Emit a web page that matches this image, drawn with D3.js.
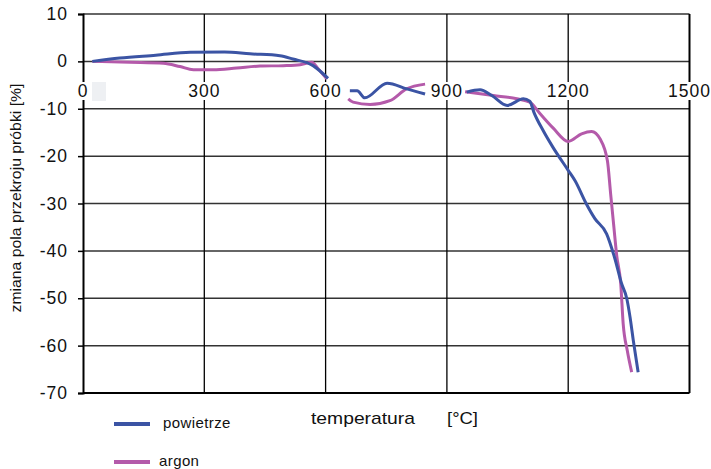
<!DOCTYPE html>
<html>
<head>
<meta charset="utf-8">
<script src="https://cdn.jsdelivr.net/npm/d3@7"></script>
<style>
	body { margin: 0; background: #fff; }
	text { font-family: "Liberation Sans", Arial, sans-serif; fill: #111; }
</style>
</head>
<body>
<div id="container"></div>
<script>
//Tick values
var xTicks = [0, 300, 600, 900, 1200, 1500];
var yTicks = [10, 0, -10, -20, -30, -40, -50, -60, -70];

//Series: temperature and change (null = hidden behind a tick label)
var powietrzeT = [23, 91, 180, 265, 350, 413, 487, 519, 569, 606, null, 660, 678, 697, 752, 801, 846, null,
	949, 982, 1011, 1049, 1089, 1105, 1115, 1138, 1162, 1200, 1217, 1245, 1266, 1295, 1315, 1332, 1345, 1353, 1361, 1373];
var powietrzeV = [0, 0.7, 1.3, 1.9, 2.0, 1.6, 1.2, 0.5, -0.9, -3.6, null, -6.2, -6.2, -7.7, -4.6, -5.8, -6.9, null,
	-6.5, -6.0, -7.2, -9.3, -7.9, -8.4, -10.7, -14.6, -18.1, -23.0, -25.2, -30.1, -33.2, -36.4, -41.5, -46.9, -50.1, -54.0, -58.9, -65.6];

var argonT = [23, 116, 199, 240, 273, 322, 380, 438, 495, 537, 566, 582, 603, null, 656, 668, 710, 759, 800, 846, null,
	945, 1015, 1073, 1105, 1130, 1163, 1200, 1233, 1258, 1279, 1297, 1305, 1313, 1320, 1330, 1336, 1346, 1357];
var argonV = [0, -0.2, -0.4, -1.1, -1.75, -1.75, -1.4, -1.0, -0.9, -0.7, -0.2, -1.6, -3.7, null, -7.9, -8.6, -9.1, -8.3, -5.8, -4.8, null,
	-6.4, -7.2, -7.9, -8.6, -11.0, -14.1, -16.9, -15.3, -14.8, -16.4, -21, -28, -35, -41, -47, -55.4, -61, -65.6];

var w = 711, h = 469;
var plotL = 83, plotR = 689.5, plotT = 14, plotB = 393;

var svg = d3.select('#container')
	.append("svg")
	.attr("width", w)
	.attr("height", h);

var x = d3.scaleLinear().domain([0, 1500]).range([plotL, plotR]);
var y = d3.scaleLinear().domain([-70, 10]).range([plotB, plotT]);

//Horizontal grid
svg.selectAll("line.hgrid")
	.data(yTicks)
	.enter()
	.append("line")
	.attr("class", "hgrid")
	.attr("x1", plotL).attr("x2", plotR)
	.attr("y1", function(d) { return y(d); })
	.attr("y2", function(d) { return y(d); })
	.attr("stroke", function(d) { return d == -70 ? "#000" : "#333"; })
	.attr("stroke-width", function(d) { return d == -70 ? 2 : 1.5; });

//Vertical grid
svg.selectAll("line.vgrid")
	.data(xTicks.slice(1))
	.enter()
	.append("line")
	.attr("class", "vgrid")
	.attr("x1", function(d) { return x(d); })
	.attr("x2", function(d) { return x(d); })
	.attr("y1", plotT).attr("y2", plotB)
	.attr("stroke", "#000")
	.attr("stroke-width", function(d) { return d == 1500 ? 2 : 1.3; });

//Y axis (plain hyphen minus like the original)
var yAxis = svg.append("g")
	.attr("transform", "translate(" + plotL + ",0)")
	.call(d3.axisLeft(y).tickValues(yTicks).tickFormat(String).tickSize(5).tickPadding(10));
yAxis.select(".domain").attr("stroke", "#000").attr("stroke-width", 2);
yAxis.selectAll(".tick line").attr("stroke", "#000").attr("stroke-width", 1.5);
yAxis.selectAll(".tick text")
	.attr("font-size", "17.5px")
	.attr("letter-spacing", "1px")
	.attr("font-family", "Liberation Sans, Arial, sans-serif")
	.attr("fill", "#111");

//Lines
function makeLine(ts, vs, color) {
	var pts = ts.map(function(t, i) { return [t, vs[i]]; });
	var line = d3.line()
		.defined(function(d) { return d[0] != null && d[1] != null; })
		.x(function(d) { return x(d[0]); })
		.y(function(d) { return y(d[1]); })
		.curve(d3.curveMonotoneX);
	svg.append("path")
		.datum(pts)
		.attr("d", line)
		.attr("fill", "none")
		.attr("stroke", color)
		.attr("stroke-width", 3)
		.attr("stroke-linejoin", "round");
}
makeLine(argonT, argonV, "#b45aaa");
makeLine(powietrzeT, powietrzeV, "#3b54a4");

//X tick labels with white boxes inside the plot
svg.append("rect")
	.attr("x", x(0) + 9).attr("y", 82)
	.attr("width", 14).attr("height", 19)
	.attr("fill", "#eef0f3");

var xl = svg.selectAll("g.xlab")
	.data(xTicks)
	.enter()
	.append("g")
	.attr("class", "xlab")
	.attr("transform", function(d) { return "translate(" + x(d) + ",91)"; });
xl.append("rect")
	.attr("x", function(d) { var bw = d == 0 ? 12 : String(d).length * 10.5 + 2; return -bw / 2; })
	.attr("y", -9)
	.attr("width", function(d) { return d == 0 ? 12 : String(d).length * 10.5 + 2; })
	.attr("height", 18)
	.attr("fill", "#fff");
xl.append("text")
	.text(function(d) { return d; })
	.attr("text-anchor", "middle")
	.attr("y", 6)
	.attr("font-size", "17.5px")
	.attr("letter-spacing", "1px");

//Axis titles
svg.append("text")
	.text("zmiana pola przekroju próbki [%]")
	.attr("transform", "translate(21,198) rotate(-90)")
	.attr("text-anchor", "middle")
	.attr("font-size", "14px")
	.attr("textLength", 229)
	.attr("lengthAdjust", "spacingAndGlyphs");

svg.append("text")
	.text("temperatura")
	.attr("x", 311).attr("y", 424)
	.attr("font-size", "17px")
	.attr("textLength", 104)
	.attr("lengthAdjust", "spacingAndGlyphs");

svg.append("text")
	.text("[°C]")
	.attr("x", 447).attr("y", 424)
	.attr("font-size", "17px")
	.attr("textLength", 31)
	.attr("lengthAdjust", "spacingAndGlyphs");

//Legend
var legend = [
	{name: "powietrze", color: "#3b54a4", y: 424, tx: 163},
	{name: "argon", color: "#b45aaa", y: 462, tx: 159}
];
svg.selectAll("line.leg")
	.data(legend)
	.enter()
	.append("line")
	.attr("class", "leg")
	.attr("x1", 114).attr("x2", 150)
	.attr("y1", function(d) { return d.y; })
	.attr("y2", function(d) { return d.y; })
	.attr("stroke", function(d) { return d.color; })
	.attr("stroke-width", 4);
svg.selectAll("text.leg")
	.data(legend)
	.enter()
	.append("text")
	.attr("class", "leg")
	.text(function(d) { return d.name; })
	.attr("x", function(d) { return d.tx; })
	.attr("y", function(d) { return d.y + 4; })
	.attr("font-size", "15px")
	.attr("letter-spacing", "0.4px");
</script>
</body>
</html>
